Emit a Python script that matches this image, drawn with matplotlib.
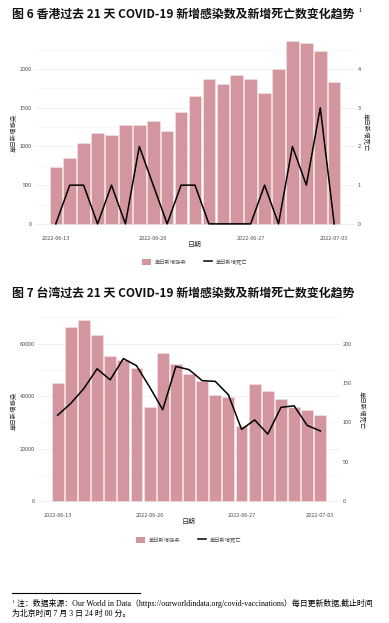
import matplotlib
matplotlib.use("Agg")
import matplotlib.pyplot as plt
import matplotlib.dates as mdates
from matplotlib.patches import Patch
from matplotlib.lines import Line2D
import pandas as pd

plt.rcParams['font.family'] = ['Noto Sans CJK SC', 'DejaVu Sans']

dates = ["2022-06-13", "2022-06-14", "2022-06-15", "2022-06-16", "2022-06-17", "2022-06-18",
         "2022-06-19", "2022-06-20", "2022-06-21", "2022-06-22", "2022-06-23", "2022-06-24",
         "2022-06-25", "2022-06-26", "2022-06-27", "2022-06-28", "2022-06-29", "2022-06-30",
         "2022-07-01", "2022-07-02", "2022-07-03"]
date_ticks = ["2022-06-13", "2022-06-20", "2022-06-27", "2022-07-03"]

hk_cases = [740, 850, 1050, 1180, 1150, 1280, 1280, 1330, 1200, 1450, 1650,
            1870, 1800, 1920, 1875, 1690, 2000, 2360, 2330, 2230, 1830]
hk_deaths = [0, 1, 1, 0, 1, 0, 2, 1, 0, 1, 1, 0, 0, 0, 0, 1, 0, 2, 1, 3, 0]

tw_cases = [45100, 66200, 69000, 63200, 55300, 53700, 50600, 35700, 56300, 52200, 48300,
            45800, 40400, 39800, 28600, 44500, 42100, 38900, 35900, 34800, 32700]
tw_deaths = [109, 124, 143, 168, 154, 181, 172, 145, 116, 171, 167,
             153, 152, 135, 91, 103, 85, 119, 121, 96, 89]

hk_left_major = [0, 500, 1000, 1500, 2000]
hk_left_minor = [250, 750, 1250, 1750, 2250]
hk_right_ticks = [0, 1, 2, 3, 4]
tw_left_major = [0, 20000, 40000, 60000]
tw_left_minor = [10000, 30000, 50000, 70000]
tw_right_ticks = [0, 50, 100, 150, 200]

title1 = "图 6 香港过去 21 天 COVID-19 新增感染数及新增死亡数变化趋势"
title2 = "图 7 台湾过去 21 天 COVID-19 新增感染数及新增死亡数变化趋势"
ylab_left = "单日新增感染"
ylab_right = "单日新增死亡"
xlab = "日期"
foot1 = "注：数据来源：Our World in Data（https://ourworldindata.org/covid-vaccinations）每日更新数据,截止时间"
foot2 = "为北京时间 7 月 3 日 24 时 00 分。"

PINK = "#D3969E"
TXT = "#4D4D4D"
W, H = 389, 623
fig = plt.figure(figsize=(W / 100, H / 100), dpi=100)


def px_axes(x0, y0, x1, y1):
    return fig.add_axes([x0 / W, 1 - y1 / H, (x1 - x0) / W, (y1 - y0) / H])


def draw(box, cases, deaths, scale, lmaj, lmin, rticks, legend_y, xlab_y, rlab_x):
    ax = px_axes(*box)
    d = mdates.date2num(pd.to_datetime(dates))
    ax.set_axisbelow(True)
    ax.bar(d, cases, width=0.9, color=PINK, edgecolor="#F4E4E6", linewidth=0.4, zorder=2)
    ymax = max(cases)
    ylo, yhi = -0.05 * ymax, 1.05 * ymax
    ax.set_ylim(ylo, yhi)
    span = (d[-1] + 0.45) - (d[0] - 0.45)
    ax.set_xlim(d[0] - 0.45 - 0.05 * span, d[-1] + 0.45 + 0.05 * span)
    ax.set_yticks(lmaj)
    ax.set_yticks(lmin, minor=True)
    ax.grid(which="major", axis="y", color="#EBEBEB", lw=0.5)
    ax.grid(which="minor", axis="y", color="#F4F4F4", lw=0.4)
    ax.set_xticks(mdates.date2num(pd.to_datetime(date_ticks)))
    ax.set_xticklabels(date_ticks)
    ax.tick_params(which="both", length=0, labelsize=4, colors=TXT, pad=2.5)
    ax2 = ax.twinx()
    ax2.plot(d, deaths, color="black", lw=1.1, zorder=3)
    ax2.set_ylim(ylo / scale, yhi / scale)
    ax2.set_yticks(rticks)
    ax2.tick_params(length=0, labelsize=4, colors=TXT, pad=2)
    for a in (ax, ax2):
        for s in a.spines.values():
            s.set_visible(False)
    x0, y0, x1, y1 = box
    cy = (y0 + y1) / 2
    fig.text(14 / W, 1 - cy / H, ylab_left, rotation=90, ha="center", va="center",
             fontsize=4.6, color="#333333")
    fig.text(rlab_x / W, 1 - cy / H, ylab_right, rotation=-90, ha="center", va="center",
             fontsize=4.6, color="#333333")
    fig.text(((x0 + x1) / 2) / W, 1 - xlab_y / H, xlab, ha="center", va="center",
             fontsize=5, color="#333333")
    handles = [Patch(facecolor=PINK, edgecolor="none"), Line2D([0], [0], color="black", lw=1.1)]
    fig.legend(handles, [ylab_left, ylab_right], loc="center",
               bbox_to_anchor=(((x0 + x1) / 2) / W, 1 - legend_y / H), ncol=2, frameon=False,
               fontsize=3.8, handlelength=1.6, handleheight=1.6, handletextpad=0.7,
               columnspacing=3.4, labelcolor=TXT)


draw((35, 32, 355, 233), hk_cases, hk_deaths, 500, hk_left_major, hk_left_minor,
     hk_right_ticks, 262, 245, 366)
draw((38, 311, 340, 510), tw_cases, tw_deaths, 300, tw_left_major, tw_left_minor,
     tw_right_ticks, 540, 522, 362)

fig.text(12 / W, 1 - 14 / H, title1, ha="left", va="center", fontsize=8.6, weight="bold", color="#111111")
fig.text(359 / W, 1 - 10 / H, "1", ha="left", va="center", fontsize=4, color="#111111")
fig.text(12 / W, 1 - 293 / H, title2, ha="left", va="center", fontsize=8.6, weight="bold", color="#111111")

fig.add_artist(Line2D([12 / W, 140 / W], [1 - 593 / H, 1 - 593 / H], color="black", lw=0.8))
fig.text(12 / W, 1 - 602 / H, "1", ha="left", va="center", fontsize=3.5,
         family=["Liberation Serif", "Noto Sans CJK SC"])
fig.text(17 / W, 1 - 604 / H, foot1, ha="left", va="center", fontsize=5.7,
         family=["Liberation Serif", "Noto Sans CJK SC"])
fig.text(12 / W, 1 - 614 / H, foot2, ha="left", va="center", fontsize=5.7,
         family=["Liberation Serif", "Noto Sans CJK SC"])

fig.savefig("out.png", dpi=100)
